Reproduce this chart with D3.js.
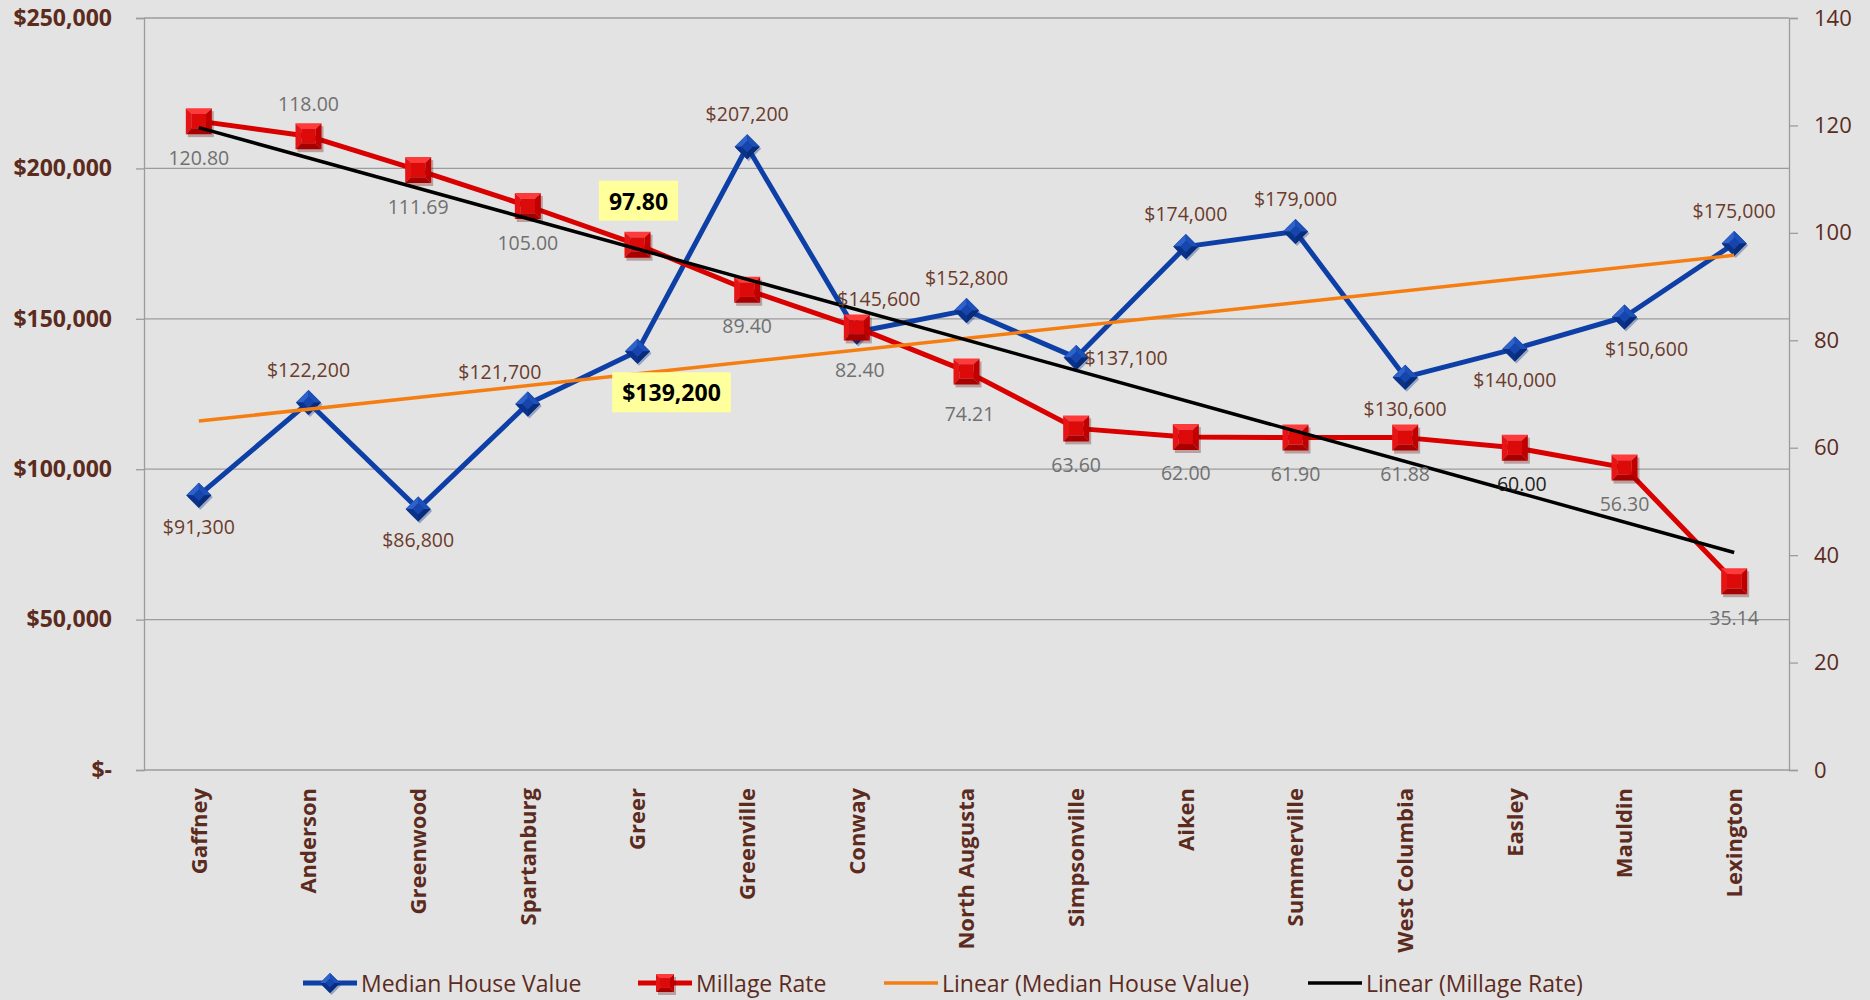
<!DOCTYPE html>
<html>
<head>
<meta charset="utf-8">
<script src="https://cdn.jsdelivr.net/npm/d3@7"></script>
<style>
  html, body { margin: 0; padding: 0; background: #e3e3e3; }
  svg { display: block; font-family: "Open Sans", sans-serif; }
</style>
</head>
<body>
<div id="grafik"></div>
<script>
const cities = ["Gaffney", "Anderson", "Greenwood", "Spartanburg", "Greer", "Greenville", "Conway",
  "North Augusta", "Simpsonville", "Aiken", "Summerville", "West Columbia", "Easley", "Mauldin", "Lexington"];
const houseValue = [91300, 122200, 86800, 121700, 139200, 207200, 145600, 152800, 137100, 174000,
  179000, 130600, 140000, 150600, 175000];
const millage = [120.80, 118.00, 111.69, 105.00, 97.80, 89.40, 82.40, 74.21, 63.60, 62.00,
  61.90, 61.88, 60.00, 56.30, 35.14];
// trend line end points (first and last city)
const trendHouse = [116000, 171100];
const trendMillage = [119.6, 40.5];
const leftTicks = [0, 50000, 100000, 150000, 200000, 250000];
const rightTicks = [0, 20, 40, 60, 80, 100, 120, 140];
const seriesNames = ["Median House Value", "Millage Rate", "Linear (Median House Value)", "Linear (Millage Rate)"];

// label placement per point
const houseLabelPos = ["b", "t", "b", "tl", "hl", "t", "tr", "t", "r", "t", "t", "b", "b", "br", "t"];
const millLabelPos = ["b", "t", "b", "b", "hl", "b", "b2", "b2", "b", "b", "b", "b", "be", "b", "b"];

const W = 1870, H = 1000;
const mLeft = 144, mRight = 1789, mTop = 18, mBottom = 770;
const brown = "#5b2b1e", labelBrown = "#6b3b2b", gray = "#707070";
const blue = "#0d3fa6", red = "#d90000", orange = "#f57e12";

const svg = d3.select("#grafik").append("svg").attr("width", W).attr("height", H);
svg.append("rect").attr("width", W).attr("height", H).attr("fill", "#e3e3e3");

const x = d3.scaleBand().domain(cities).range([mLeft, mRight]).padding(0);
const cx = d => x(d) + x.bandwidth() / 2;
const yL = d3.scaleLinear().domain([0, 250000]).range([mBottom, mTop]);
const yR = d3.scaleLinear().domain([0, 140]).range([mBottom, mTop]);

// gridlines
svg.append("g").selectAll("line").data(leftTicks).join("line")
  .attr("x1", mLeft).attr("x2", mRight)
  .attr("y1", d => yL(d)).attr("y2", d => yL(d))
  .attr("stroke", "#9c9c9c").attr("stroke-width", 1.3);

// left axis
const ga = svg.append("g").attr("transform", `translate(${mLeft},0)`)
  .call(d3.axisLeft(yL).tickValues(leftTicks).tickSize(8).tickPadding(24)
    .tickFormat(d => d === 0 ? "$-" : d3.format("$,")(d)));
ga.select(".domain").attr("stroke", "#9c9c9c").attr("stroke-width", 1.3);
ga.selectAll(".tick line").attr("stroke", "#9c9c9c").attr("stroke-width", 1.3);
ga.selectAll("text").attr("fill", brown).style("font-size", "23px").style("font-weight", "bold")
  .style("font-family", "'Open Sans', sans-serif");

// right axis
const gr = svg.append("g").attr("transform", `translate(${mRight},0)`)
  .call(d3.axisRight(yR).tickValues(rightTicks).tickSize(9).tickPadding(16));
gr.select(".domain").attr("stroke", "#9c9c9c").attr("stroke-width", 1.3);
gr.selectAll(".tick line").attr("stroke", "#9c9c9c").attr("stroke-width", 1.3);
gr.selectAll("text").attr("fill", brown).style("font-size", "22px")
  .style("font-family", "'Open Sans', sans-serif");

// category labels
svg.append("g").selectAll("text").data(cities).join("text")
  .attr("transform", d => `translate(${cx(d)},788) rotate(-90)`)
  .attr("text-anchor", "end").attr("dy", ".35em")
  .attr("fill", brown).style("font-size", "22px").style("font-weight", "bold")
  .text(d => d);

// marker drawing (bevelled look)
function diamond(g, px, py, s) {
  const h = s / 2;
  const t = [px, py - h], r = [px + h, py], b = [px, py + h], l = [px - h, py];
  const inner = 0.45;
  const ic = (p) => [px + (p[0] - px) * inner, py + (p[1] - py) * inner];
  g.append("path").attr("d", `M${t}L${r}L${b}L${l}Z`).attr("fill", "#0a2f80")
    .attr("transform", "translate(1.5,2)").attr("opacity", 0.35);
  g.append("path").attr("d", `M${t}L${r}L${b}L${l}Z`).attr("fill", "#0c3a9c");
  g.append("path").attr("d", `M${l}L${t}L${ic(t)}L${ic(l)}Z`).attr("fill", "#2f62c8");
  g.append("path").attr("d", `M${t}L${r}L${ic(r)}L${ic(t)}Z`).attr("fill", "#1d4fb8");
  g.append("path").attr("d", `M${r}L${b}L${ic(b)}L${ic(r)}Z`).attr("fill", "#082c78");
  g.append("path").attr("d", `M${b}L${l}L${ic(l)}L${ic(b)}Z`).attr("fill", "#0a3288");
  g.append("path").attr("d", `M${ic(t)}L${ic(r)}L${ic(b)}L${ic(l)}Z`).attr("fill", "#1545ad");
}
function square(g, px, py, s) {
  const h = s / 2;
  const tl = [px - h, py - h], tr = [px + h, py - h], br = [px + h, py + h], bl = [px - h, py + h];
  const k = 0.55;
  const ic = (p) => [px + (p[0] - px) * k, py + (p[1] - py) * k];
  g.append("rect").attr("x", px - h + 2).attr("y", py - h + 3).attr("width", s).attr("height", s)
    .attr("fill", "#600000").attr("opacity", 0.3);
  g.append("path").attr("d", `M${tl}L${tr}L${ic(tr)}L${ic(tl)}Z`).attr("fill", "#ff3a3a");
  g.append("path").attr("d", `M${tl}L${bl}L${ic(bl)}L${ic(tl)}Z`).attr("fill", "#e61414");
  g.append("path").attr("d", `M${tr}L${br}L${ic(br)}L${ic(tr)}Z`).attr("fill", "#c00000");
  g.append("path").attr("d", `M${bl}L${br}L${ic(br)}L${ic(bl)}Z`).attr("fill", "#a80000");
  g.append("path").attr("d", `M${ic(tl)}L${ic(tr)}L${ic(br)}L${ic(bl)}Z`).attr("fill", "#dd0a0a");
}

// house value series
const lineL = d3.line().x((d, i) => cx(cities[i])).y(d => yL(d));
const lineR = d3.line().x((d, i) => cx(cities[i])).y(d => yR(d));
svg.append("path").datum(houseValue).attr("d", lineL).attr("fill", "none")
  .attr("stroke", blue).attr("stroke-width", 5).attr("stroke-linejoin", "round");
const gm1 = svg.append("g");
houseValue.forEach((v, i) => diamond(gm1, cx(cities[i]), yL(v), 25));

// millage series
svg.append("path").datum(millage).attr("d", lineR).attr("fill", "none")
  .attr("stroke", red).attr("stroke-width", 5).attr("stroke-linejoin", "round");
const gm2 = svg.append("g");
millage.forEach((v, i) => square(gm2, cx(cities[i]), yR(v), 26));

// trend lines
const ends = [cities[0], cities[cities.length - 1]];
svg.append("line")
  .attr("x1", cx(ends[0])).attr("x2", cx(ends[1]))
  .attr("y1", yL(trendHouse[0])).attr("y2", yL(trendHouse[1]))
  .attr("stroke", orange).attr("stroke-width", 3.5);
svg.append("line")
  .attr("x1", cx(ends[0])).attr("x2", cx(ends[1]))
  .attr("y1", yR(trendMillage[0])).attr("y2", yR(trendMillage[1]))
  .attr("stroke", "#000").attr("stroke-width", 3.5);

// data labels
const hOff = { t: [0, -33], b: [0, 31], tl: [-28, -32], tr: [22, -34], r: [50, 0], br: [22, 32], hl: [34, 41] };
const mOff = { t: [0, -33], b: [0, 36], b2: [3, 42], be: [7, 36], hl: [1, -44] };

function label(g, px, py, txt, color) {
  g.append("text").attr("x", px).attr("y", py).attr("text-anchor", "middle")
    .attr("dominant-baseline", "central").attr("fill", color)
    .style("font-size", "19.5px").text(txt);
}
function highlight(g, px, py, txt) {
  const t = g.append("text").attr("x", px).attr("y", py).attr("text-anchor", "middle")
    .attr("dominant-baseline", "central").attr("fill", "#000")
    .style("font-size", "23px").style("font-weight", "bold").text(txt);
  const bb = t.node().getBBox();
  g.insert("rect", "text").attr("x", bb.x - 10).attr("y", py - 20)
    .attr("width", bb.width + 20).attr("height", 40).attr("fill", "#ffff9c");
}
const gl = svg.append("g");
houseValue.forEach((v, i) => {
  const p = houseLabelPos[i], o = hOff[p];
  const txt = d3.format("$,")(v);
  const g = gl.append("g");
  if (p === "hl") highlight(g, cx(cities[i]) + o[0], yL(v) + o[1], txt);
  else label(g, cx(cities[i]) + o[0], yL(v) + o[1], txt, labelBrown);
});
millage.forEach((v, i) => {
  const p = millLabelPos[i], o = mOff[p];
  const txt = d3.format(".2f")(v);
  const g = gl.append("g");
  if (p === "hl") highlight(g, cx(cities[i]) + o[0], yR(v) + o[1], txt);
  else label(g, cx(cities[i]) + o[0], yR(v) + o[1], txt, p === "be" ? "#1e1e1e" : gray);
});

// legend
const legendX = [303, 638, 884, 1308];
const ly = 983;
const lg = svg.append("g");
seriesNames.forEach((name, i) => {
  const x0 = legendX[i];
  const col = [blue, red, orange, "#000"][i];
  lg.append("line").attr("x1", x0).attr("x2", x0 + 54).attr("y1", ly).attr("y2", ly)
    .attr("stroke", col).attr("stroke-width", i < 2 ? 5 : 3.5);
  if (i === 0) diamond(lg, x0 + 27, ly, 20);
  if (i === 1) square(lg, x0 + 27, ly, 18);
  lg.append("text").attr("x", x0 + 58).attr("y", ly).attr("dominant-baseline", "central")
    .attr("fill", brown).style("font-size", "23px").text(name);
});
</script>
</body>
</html>
